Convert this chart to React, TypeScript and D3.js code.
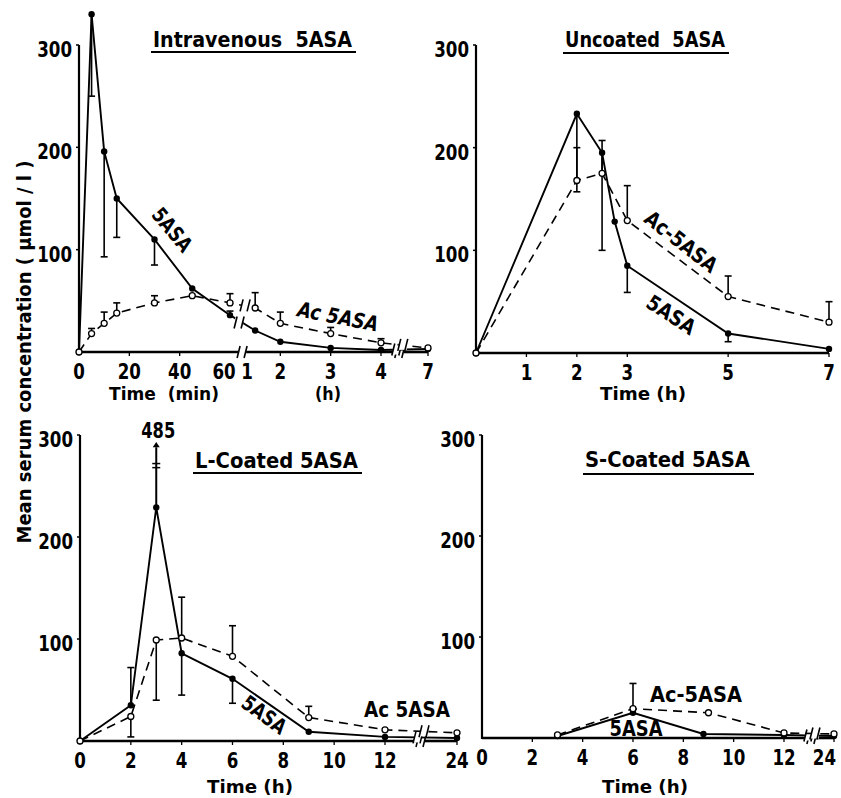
import * as d3 from "d3";

const FONT = "'DejaVu Sans', sans-serif";
const DIGIT_W = 11.6;

// Intravenous: time in hours (first hour given as minutes / 60)
const ivTime = [0, 5 / 60, 10 / 60, 15 / 60, 30 / 60, 45 / 60, 1, 1.5, 2, 3, 4, 7];
const iv5asa = [0, 330, 196, 150, 110, 62, 36, 21, 10, 4, 2, 3];
const iv5asaLow = [null, 250, 93, 112, 85, null, null, null, null, null, null, null];
const iv5asaHigh = [null, null, null, null, null, null, 40, null, null, null, null, null];
const ivAc = [0, 18, 28, 38, 48, 55, 48, 43, 28, 18, 9, 4];
const ivAcHigh = [null, 23, 39, 48, 55, null, 57, 58, 39, 24, 13, null];

// Uncoated
const unTime5 = [0, 2, 2.5, 2.75, 3, 5, 7];
const un5asa = [0, 233, 195, 128, 85, 19, 4];
const un5asaLow = [null, 157, 100, null, 59, 11, null];
const unTimeAc = [0, 2, 2.5, 3, 5, 7];
const unAc = [0, 168, 175, 129, 55, 30];
const unAcHigh = [null, 200, 207, 163, 75, 50];

// L-coated
const lcTime = [0, 2, 3, 4, 6, 9, 12, 24];
const lc5asa = [0, 35, 229, 86, 61, 9, 4, 3];
const lc5asaLow = [null, null, null, 45, 37, null, null, null];
const lc5asaHigh = [null, 72, 485, null, null, null, null, null];
const lcAc = [0, 24, 99, 101, 83, 23, 11, 8];
const lcAcLow = [null, 4, 40, null, null, null, null, null];
const lcAcHigh = [null, null, null, 141, 113, 34, null, null];

// S-coated
const scTime5 = [3, 6, 8.8, 12, 24];
const sc5asa = [2, 25, 4, 3, 2];
const scTimeAc = [3, 6, 9, 12, 24];
const scAc = [3, 29, 25, 5, 4];
const scAcHigh = [null, 54, null, null, null];

const yTicks = [100, 200, 300];

type Series = {
  t: number[];
  v: number[];
  low?: (number | null)[];
  high?: (number | null)[];
  dashed: boolean;
};

type Label = { text: string; x: number; y: number; angle: number; len: number; italic?: boolean };

type PanelCfg = {
  xDomain: number[];
  xRange: number[];
  yRange: number[];
  xTicks: { v: number; label: string; dx?: number }[];
  breaks: number[];
  title: { text: string; x0: number; x1: number; base: number; ul: number };
  xLabels: { text: string; x: number; y: number; len: number }[];
  series: Series[];
  labels: Label[];
};

const panels: PanelCfg[] = [
  {
    xDomain: [0, 1, 4, 7],
    xRange: [79, 230, 381, 428],
    yRange: [352, 45],
    xTicks: [
      { v: 0, label: "0" },
      { v: 20 / 60, label: "20" },
      { v: 40 / 60, label: "40" },
      { v: 1, label: "60", dx: -6 },
      { v: 1, label: "1", dx: 17 },
      { v: 2, label: "2" },
      { v: 3, label: "3" },
      { v: 4, label: "4" },
      { v: 7, label: "7" },
    ],
    breaks: [1.24, 5.2],
    title: { text: "Intravenous  5ASA", x0: 153, x1: 352, base: 47, ul: 51 },
    xLabels: [
      { text: "Time  (min)", x: 164, y: 400, len: 110 },
      { text: "(h)", x: 328, y: 400, len: 26 },
    ],
    series: [
      { t: ivTime, v: iv5asa, low: iv5asaLow, high: iv5asaHigh, dashed: false },
      { t: ivTime, v: ivAc, high: ivAcHigh, dashed: true },
    ],
    labels: [
      { text: "5ASA", x: 172, y: 230, angle: 50, len: 50 },
      { text: "Ac 5ASA", x: 338, y: 317, angle: 11, len: 82, italic: true },
    ],
  },
  {
    xDomain: [0, 7],
    xRange: [476, 829],
    yRange: [353, 45],
    xTicks: [1, 2, 3, 5, 7].map((v) => ({ v, label: String(v) })),
    breaks: [],
    title: { text: "Uncoated  5ASA", x0: 565, x1: 725, base: 47, ul: 52 },
    xLabels: [{ text: "Time (h)", x: 643, y: 400, len: 86 }],
    series: [
      { t: unTime5, v: un5asa, low: un5asaLow, dashed: false },
      { t: unTimeAc, v: unAc, high: unAcHigh, dashed: true },
    ],
    labels: [
      { text: "Ac-5ASA", x: 681, y: 242, angle: 38, len: 86 },
      { text: "5ASA", x: 671, y: 315, angle: 33, len: 54 },
    ],
  },
  {
    xDomain: [0, 12, 24],
    xRange: [80, 385, 457],
    yRange: [741, 435],
    xTicks: [0, 2, 4, 6, 8, 10, 12, 24].map((v) => ({ v, label: String(v) })),
    breaks: [18],
    title: { text: "L-Coated 5ASA", x0: 195, x1: 358, base: 468, ul: 472 },
    xLabels: [{ text: "Time (h)", x: 250, y: 793, len: 86 }],
    series: [
      { t: lcTime, v: lc5asa, low: lc5asaLow, high: lc5asaHigh, dashed: false },
      { t: lcTime, v: lcAc, low: lcAcLow, high: lcAcHigh, dashed: true },
    ],
    labels: [
      { text: "5ASA", x: 264, y: 715, angle: 36, len: 50 },
      { text: "Ac 5ASA", x: 407, y: 710, angle: 0, len: 86 },
    ],
  },
  {
    xDomain: [0, 12, 24],
    xRange: [482, 784, 834],
    yRange: [738, 435],
    xTicks: [0, 2, 4, 6, 8, 10, 12, 24].map((v) => ({ v, label: String(v) })),
    breaks: [18.7],
    title: { text: "S-Coated 5ASA", x0: 585, x1: 750, base: 467, ul: 473 },
    xLabels: [{ text: "Time (h)", x: 645, y: 793, len: 86 }],
    series: [
      { t: scTime5, v: sc5asa, dashed: false },
      { t: scTimeAc, v: scAc, high: scAcHigh, dashed: true },
    ],
    labels: [
      { text: "Ac-5ASA", x: 696, y: 695, angle: 0, len: 92 },
      { text: "5ASA", x: 636, y: 729, angle: 0, len: 53 },
    ],
  },
];

function Slashes({ x, y }: { x: number; y: number }) {
  return (
    <g stroke="#000" strokeWidth={1.6}>
      <rect x={x - 4} y={y - 5} width={8} height={10} fill="#fff" stroke="none" />
      <line x1={x - 5} y1={y + 6} x2={x - 2} y2={y - 6} />
      <line x1={x + 2} y1={y + 6} x2={x + 5} y2={y - 6} />
    </g>
  );
}

function Num({ x, y, text, anchor }: { x: number; y: number; text: string; anchor: "start" | "middle" | "end" }) {
  return (
    <text
      x={x}
      y={y}
      textAnchor={anchor}
      fontSize={22}
      fontWeight="bold"
      fontFamily={FONT}
      textLength={text.length * DIGIT_W}
      lengthAdjust="spacingAndGlyphs"
    >
      {text}
    </text>
  );
}

function Panel({ p }: { p: PanelCfg }) {
  const x = d3.scaleLinear().domain(p.xDomain).range(p.xRange);
  const y = d3.scaleLinear().domain([0, 300]).range(p.yRange);
  const y0 = y(0);
  const xMin = p.xRange[0];
  const xMax = p.xRange[p.xRange.length - 1];

  // x axis split at breaks
  const bx = p.breaks.map((b) => x(b));
  const edges = [xMin, ...bx.flatMap((b) => [b - 4, b + 4]), xMax];
  const segs: [number, number][] = [];
  for (let i = 0; i < edges.length; i += 2) segs.push([edges[i], edges[i + 1]]);

  return (
    <g>
      {/* y axis */}
      <line x1={xMin} y1={y0 + 1} x2={xMin} y2={y(300)} stroke="#000" strokeWidth={2.2} />
      {yTicks.map((t) => (
        <g key={t}>
          <line x1={xMin - 3} x2={xMin} y1={y(t)} y2={y(t)} stroke="#000" strokeWidth={1.5} />
          <Num x={xMin - 7} y={y(t) + 12} text={String(t)} anchor="end" />
        </g>
      ))}
      {/* x axis */}
      {segs.map(([a, b], i) => (
        <line key={i} x1={a} x2={b} y1={y0} y2={y0} stroke="#000" strokeWidth={2.6} />
      ))}
      {bx.map((b, i) => (
        <Slashes key={i} x={b} y={y0} />
      ))}
      {p.xTicks.map((t, i) => {
        const px = x(t.v) + (t.dx || 0);
        const half = (t.label.length * DIGIT_W) / 2;
        const cx = Math.min(px, 836 - half);
        return (
          <g key={i}>
            {!t.dx && t.v > 0 && (
              <line x1={x(t.v)} x2={x(t.v)} y1={y0} y2={y0 + 4} stroke="#000" strokeWidth={1.3} />
            )}
            <Num x={cx} y={y0 + 27} text={t.label} anchor="middle" />
          </g>
        );
      })}
      {p.xLabels.map((l, i) => (
        <text
          key={i}
          x={l.x}
          y={l.y}
          textAnchor="middle"
          fontSize={18}
          fontWeight="bold"
          fontFamily={FONT}
          textLength={l.len}
          lengthAdjust="spacingAndGlyphs"
          style={{ whiteSpace: "pre" }}
        >
          {l.text}
        </text>
      ))}
      {/* title */}
      <text
        x={p.title.x0}
        y={p.title.base}
        fontSize={22}
        fontFamily={FONT}
        fontWeight="bold"
        textLength={p.title.x1 - p.title.x0}
        lengthAdjust="spacingAndGlyphs"
        style={{ whiteSpace: "pre" }}
      >
        {p.title.text}
      </text>
      <line
        x1={p.title.x0 - 2}
        x2={p.title.x1 + 4}
        y1={p.title.ul + 1}
        y2={p.title.ul + 1}
        stroke="#000"
        strokeWidth={2.2}
      />
      {/* series */}
      {p.series.map((s, si) => {
        const pts: [number, number][] = s.t.map((t, i) => [x(t), y(s.v[i])]);
        const path = d3.line()(pts) || "";
        const marks = p.breaks.map((b) => {
          const xb = x(b);
          for (let i = 0; i < pts.length - 1; i++) {
            if (pts[i][0] <= xb && pts[i + 1][0] >= xb) {
              const f = (xb - pts[i][0]) / (pts[i + 1][0] - pts[i][0]);
              return [xb, pts[i][1] + f * (pts[i + 1][1] - pts[i][1])] as [number, number];
            }
          }
          return null;
        });
        return (
          <g key={si}>
            <path
              d={path}
              fill="none"
              stroke="#000"
              strokeWidth={s.dashed ? 1.6 : 1.9}
              strokeDasharray={s.dashed ? "9,6" : undefined}
            />
            {marks.map((m, i) => m && <Slashes key={i} x={m[0] + (si ? 3 : -3)} y={m[1]} />)}
            {s.t.map((t, i) => {
              const cx = x(t);
              const cy = y(s.v[i]);
              const lo = s.low ? s.low[i] : null;
              const hi = s.high ? s.high[i] : null;
              return (
                <g key={i}>
                  {lo != null && (
                    <g stroke="#000" strokeWidth={1.6}>
                      <line x1={cx} x2={cx} y1={cy} y2={y(lo)} />
                      <line x1={cx - 3.5} x2={cx + 3.5} y1={y(lo)} y2={y(lo)} />
                    </g>
                  )}
                  {hi != null && hi <= 300 && (
                    <g stroke="#000" strokeWidth={1.6}>
                      <line x1={cx} x2={cx} y1={cy} y2={y(hi)} />
                      <line x1={cx - 3.5} x2={cx + 3.5} y1={y(hi)} y2={y(hi)} />
                    </g>
                  )}
                  {hi != null && hi > 300 && (
                    <g>
                      <line x1={cx} x2={cx} y1={cy} y2={y(288)} stroke="#000" strokeWidth={2} />
                      <path
                        d={`M${cx},${y(300) + 7}L${cx - 3.5},${y(288)}L${cx + 3.5},${y(288)}Z`}
                        fill="#000"
                      />
                      <line x1={cx - 4} x2={cx + 4} y1={y(272)} y2={y(272)} stroke="#000" strokeWidth={1.5} />
                      <line x1={cx - 4} x2={cx + 4} y1={y(268)} y2={y(268)} stroke="#000" strokeWidth={1.5} />
                      <text
                        x={cx + 2}
                        y={y(300) + 3}
                        textAnchor="middle"
                        fontSize={21}
                        fontWeight="bold"
                        fontFamily={FONT}
                        textLength={34}
                        lengthAdjust="spacingAndGlyphs"
                      >
                        {hi}
                      </text>
                    </g>
                  )}
                  {s.dashed ? (
                    <circle cx={cx} cy={cy} r={3} fill="#fff" stroke="#000" strokeWidth={1.3} />
                  ) : (
                    <circle cx={cx} cy={cy} r={3.2} fill="#000" />
                  )}
                </g>
              );
            })}
          </g>
        );
      })}
      {p.labels.map((l, i) => (
        <text
          key={i}
          transform={`translate(${l.x},${l.y}) rotate(${l.angle})`}
          textAnchor="middle"
          dominantBaseline="central"
          fontSize={21}
          fontWeight="bold"
          fontStyle={l.italic ? "italic" : undefined}
          fontFamily={FONT}
          textLength={l.len}
          lengthAdjust="spacingAndGlyphs"
          style={{ whiteSpace: "pre" }}
        >
          {l.text}
        </text>
      ))}
    </g>
  );
}

export default function App() {
  return (
    <svg
      width={841}
      height={798}
      viewBox="0 0 841 798"
      style={{ position: "absolute", left: 0, top: 0, background: "#fff" }}
    >
      <rect width={841} height={798} fill="#fff" />
      {panels.map((p, i) => (
        <Panel key={i} p={p} />
      ))}
      <text
        transform="translate(31,352) rotate(-90)"
        textAnchor="middle"
        fontSize={20}
        fontWeight="bold"
        fontFamily={FONT}
        textLength={383}
        lengthAdjust="spacingAndGlyphs"
      >
        Mean serum concentration ( μmol / l )
      </text>
    </svg>
  );
}
